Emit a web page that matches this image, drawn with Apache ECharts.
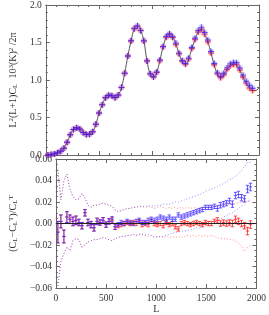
<!DOCTYPE html>
<html><head><meta charset="utf-8">
<script src="https://cdn.jsdelivr.net/npm/echarts@6/dist/echarts.min.js"></script>
<style>html,body{margin:0;padding:0;background:#fff}#c{width:269px;height:315px}</style>
</head><body><div id="c"></div>
<script>
// Multipole bin centres
const binL = [20,50,80,110,140,170,200,230,260,290,320,350,380,410,440,470,500,530,560,590,620,650,680,710,740,770,800,830,860,890,920,950,980,1010,1040,1070,1100,1130,1160,1190,1220,1250,1280,1310,1340,1370,1400,1430,1460,1490,1520,1550,1580,1610,1640,1670,1700,1730,1760,1790,1820,1850,1880,1910,1940];
// Theory spectrum at bin centres
const theory = [0.00,0.005,0.015,0.03,0.05,0.09,0.17,0.27,0.34,0.36,0.345,0.30,0.275,0.275,0.31,0.41,0.56,0.67,0.76,0.80,0.79,0.765,0.80,0.90,1.09,1.32,1.52,1.68,1.72,1.66,1.52,1.25,1.08,1.04,1.10,1.26,1.44,1.57,1.61,1.57,1.48,1.35,1.25,1.21,1.28,1.42,1.54,1.64,1.68,1.61,1.51,1.36,1.20,1.08,1.03,1.07,1.14,1.19,1.21,1.20,1.13,1.04,0.96,0.90,0.86];
// Theory curve end points
const curveStartL = [0], curveStartV = [0.0];
const curveEndL = [1970, 2000], curveEndV = [0.86, 0.90];
// Fractional residuals (x0.001)
const blueRes = [-8,2,-12,6,4,2,3,1,-2,10,1,-1,-4,2,1,3,-1,2,4,-3,-1,1,0,2,1,0,2,3,1,1,3,4,3,4,6,5,4,6,4,4,8,6,7,8,9,10,11,12,13,15,15,15,16,14,17,18,19,21,18,26,27,24,23,32,34];
const blueErr = [10,6,6,5,4,4,4,3,3,3,3,3,3,3,2.5,2.5,2.5,2.5,2.5,2.5,2,2,2,2,2,2,2,2,2,2,2,2,2,2,2,2,2,2,2,2,2,2,2,2,2,2,2,2,2,2,2,2,2,2.5,2.5,2.5,2.5,2.5,3,3,3,3,3,3.5,3.5];
const redRes = [-8,2,-12,6,4,2,3,1,-2,10,1,-1,-4,2,1,3,-1,2,3,-3,-2,-1,0,1,0,1,0,2,-1,0,-1,2,0,-1,0,-2,1,-1,0,-3,-5,0,1,0,-1,0,1,0,-1,1,0,0,2,3,0,1,0,1,0,4,2,0,-2,-7,-1];
const redErr = [10,6,6,5,4,4,4,3,3,3,3,3,3,3,2.5,2.5,2.5,2.5,2.5,2.5,2,2,2,2,2,2,2,2,2,2,2,2,2,2,2,2,2,2,2,2,2,2,2,2,2,2,2,2,2,2,2,2,2,2.5,2.5,2.5,2.5,2.5,3,3,3,3,3,3.5,3.5];
// Scatter envelopes (x0.001)
const blueUp = [50,22,40,46,32,25,22,23,28,24,17,15,17,17,18,19,18,17,16,13,11,12,13,14,14,15,15,16,16,16,16,17,16,17,17,18,18,18,19,20,20,21,22,23,24,25,26,27,28,30,31,32,33,34,36,37,39,41,42,44,46,49,53,57,57];
const blueLo = [-58,-35,-28,-22,-25,-16,-14,-15,-22,-20,-17,-16,-15,-15,-14,-13,-14,-15,-16,-14,-13,-12,-12,-11,-11,-10,-11,-10,-10,-10,-10,-11,-13,-12,-12,-12,-11,-10,-9,-8,-8,-7,-7,-6,-6,-5,-4,-4,-3,-2,-1,0,1,3,4,6,7,9,10,12,14,16,18,21,22];
const redUp = [50,22,40,46,32,25,22,23,28,24,17,15,17,17,18,19,18,17,16,13,11,12,13,14,14,15,15,16,16,15,16,15,14,15,16,15,14,15,14,15,14,15,14,15,14,15,14,15,15,14,15,16,16,17,16,17,18,17,18,19,19,20,21,21,20];
const redLo = [-58,-35,-28,-22,-25,-16,-14,-15,-22,-20,-17,-16,-15,-15,-14,-13,-14,-15,-16,-14,-13,-12,-12,-11,-11,-10,-11,-10,-10,-11,-12,-11,-12,-13,-12,-13,-12,-13,-12,-13,-12,-13,-12,-11,-12,-11,-12,-11,-12,-11,-12,-11,-12,-13,-14,-14,-14,-15,-15,-16,-18,-21,-26,-22,-20];
// Axis ticks
const xTicks = [0, 500, 1000, 1500, 2000];
const topYTicks = [0.0, 0.5, 1.0, 1.5, 2.0];
const botYTicks = [-0.06, -0.04, -0.02, 0.00, 0.02, 0.04, 0.06];

const S = 0.001;
const curve = [];
curveStartL.forEach((l,i)=>curve.push([l, curveStartV[i]]));
binL.forEach((l,i)=>curve.push([l, theory[i]]));
curveEndL.forEach((l,i)=>curve.push([l, curveEndV[i]]));
const blueTop = binL.map((l,i)=>[l, theory[i]*(1+blueRes[i]*S)]);
const redTop = binL.map((l,i)=>[l, theory[i]*(1+redRes[i]*S)]);
const blueBars = binL.map((l,i)=>[l, blueRes[i]*S, blueErr[i]*S]);
const redBars = binL.map((l,i)=>[l, redRes[i]*S, redErr[i]*S]);
const env = arr => binL.map((l,i)=>[l, arr[i]*S]);

const FONT = 'Liberation Serif';
const TXT = '#333';
const AX = '#666';
function xAx(grid, pos, show, extra) {
  return Object.assign({
    type:'value', gridIndex:grid, position:pos, min:xTicks[0], max:xTicks[xTicks.length-1], interval:500,
    axisLine:{onZero:false, lineStyle:{color:AX,width:1}},
    axisTick:{inside:true,length:4,lineStyle:{color:AX}},
    minorTick:{show:true,splitNumber:5,length:2,lineStyle:{color:AX}},
    splitLine:{show:false},
    axisLabel:{show:show,color:TXT,fontFamily:FONT,fontSize:9.5,margin:5,formatter:v=>String(v)}
  }, extra||{});
}
function yAx(grid, pos, min, max, itv, split, show, fmt, extra) {
  return Object.assign({
    type:'value', gridIndex:grid, position:pos, min:min, max:max, interval:itv,
    axisLine:{onZero:false, show:true, lineStyle:{color:AX,width:1}},
    axisTick:{show:true,inside:true,length:4,lineStyle:{color:AX}},
    minorTick:{show:true,splitNumber:split,length:2,lineStyle:{color:AX}},
    splitLine:{show:false},
    axisLabel:{show:show,color:TXT,fontFamily:FONT,fontSize:9.5,margin:4,formatter:fmt}
  }, extra||{});
}
const plus = 'path://M0.42,0H0.58V0.42H1V0.58H0.58V1H0.42V0.58H0V0.42H0.42Z';

function errRender(color){
  return function(params, api){
    const x=api.value(0), y=api.value(1), e=api.value(2);
    const c=api.coord([x,y]), t=api.coord([x,y+e]), b=api.coord([x,y-e]);
    const hw=1.7;
    const st={stroke:color,lineWidth:1};
    return {type:'group',children:[
      {type:'line',shape:{x1:c[0],y1:t[1],x2:c[0],y2:b[1]},style:st},
      {type:'line',shape:{x1:c[0]-hw,y1:c[1],x2:c[0]+hw,y2:c[1]},style:st},
      {type:'line',shape:{x1:c[0]-hw,y1:t[1],x2:c[0]+hw,y2:t[1]},style:st},
      {type:'line',shape:{x1:c[0]-hw,y1:b[1],x2:c[0]+hw,y2:b[1]},style:st}
    ]};
  };
}
const richStyles = {
  n:{fontFamily:FONT,fontSize:10,color:TXT},
  s:{fontFamily:FONT,fontSize:7,color:TXT,verticalAlign:'top',padding:[0,0,4,0]},
  b:{fontFamily:FONT,fontSize:7,color:TXT,verticalAlign:'bottom',padding:[4,0,0,0]}
};

const chart = echarts.init(document.getElementById('c'), null, {renderer:'canvas'});
chart.setOption({
  animation:false,
  backgroundColor:'#fff',
  grid:[
    {left:38,right:10,top:4,height:151},
    {left:38,right:10,top:159,height:136}
  ],
  xAxis:[
    xAx(0,'bottom',false),
    xAx(0,'top',false),
    xAx(1,'bottom',true,{name:'L',nameLocation:'middle',nameGap:15,nameTextStyle:{color:TXT,fontFamily:FONT,fontSize:10}}),
    xAx(1,'top',false)
  ],
  yAxis:[
    yAx(0,'left',0,2,0.5,5,true,v=>v.toFixed(1),{
      name:'{n|L}{s|2}{n|(L+1)C}{b|L}{n|  10}{s|3}{n|(K)}{s|2}{n| /2π}',
      nameLocation:'middle',nameGap:24,nameRotate:90,
      nameTextStyle:{color:TXT,fontFamily:FONT,fontSize:10,rich:richStyles}
    }),
    yAx(0,'right',0,2,0.5,5,false,null),
    yAx(1,'left',-0.06,0.06,0.02,4,true,v=>{const s=Math.abs(v).toFixed(2);return v<-1e-9?'\u2212'+s:s;},{
      name:'{n|(C}{b|L}{n|\u2212C}{b|L}{s|T}{n|)/C}{b|L}{s|T}',
      nameLocation:'middle',nameGap:26,nameRotate:90,
      nameTextStyle:{color:TXT,fontFamily:FONT,fontSize:10,rich:richStyles}
    }),
    yAx(1,'right',-0.06,0.06,0.02,4,false,null)
  ],
  series:[
    {type:'line',xAxisIndex:0,yAxisIndex:0,data:curve,smooth:0.4,showSymbol:false,symbol:'none',
     lineStyle:{color:'#555',width:1},z:1},
    {type:'scatter',xAxisIndex:0,yAxisIndex:0,data:redTop,symbol:'circle',symbolSize:6,
     itemStyle:{color:'rgba(255,60,60,0.35)'},z:2},
    {type:'scatter',xAxisIndex:0,yAxisIndex:0,data:redTop,symbol:plus,symbolSize:6,
     itemStyle:{color:'rgba(255,0,0,0.9)'},z:3},
    {type:'scatter',xAxisIndex:0,yAxisIndex:0,data:blueTop,symbol:'circle',symbolSize:6,
     itemStyle:{color:'rgba(90,90,255,0.35)'},z:4},
    {type:'scatter',xAxisIndex:0,yAxisIndex:0,data:blueTop,symbol:plus,symbolSize:6,
     itemStyle:{color:'rgba(40,20,255,0.85)'},z:5},

    {type:'line',xAxisIndex:2,yAxisIndex:2,data:env(redUp),showSymbol:false,symbol:'none',
     lineStyle:{color:'rgba(255,90,90,0.7)',width:1,type:[1,2]},z:1},
    {type:'line',xAxisIndex:2,yAxisIndex:2,data:env(redLo),showSymbol:false,symbol:'none',
     lineStyle:{color:'rgba(255,90,90,0.7)',width:1,type:[1,2]},z:1},
    {type:'line',xAxisIndex:2,yAxisIndex:2,data:env(blueUp),showSymbol:false,symbol:'none',
     lineStyle:{color:'rgba(110,90,255,0.7)',width:1,type:[1,2]},z:1},
    {type:'line',xAxisIndex:2,yAxisIndex:2,data:env(blueLo),showSymbol:false,symbol:'none',
     lineStyle:{color:'rgba(110,90,255,0.7)',width:1,type:[1,2]},z:1,
     markLine:{silent:true,symbol:'none',label:{show:false},lineStyle:{color:'#222',width:1,type:'solid'},data:[{yAxis:0}]}},
    {type:'custom',xAxisIndex:2,yAxisIndex:2,data:redBars,renderItem:errRender('rgba(255,40,40,0.85)'),z:3},
    {type:'custom',xAxisIndex:2,yAxisIndex:2,data:blueBars,renderItem:errRender('rgba(60,40,255,0.75)'),z:4}
  ]
});
</script></body></html>
